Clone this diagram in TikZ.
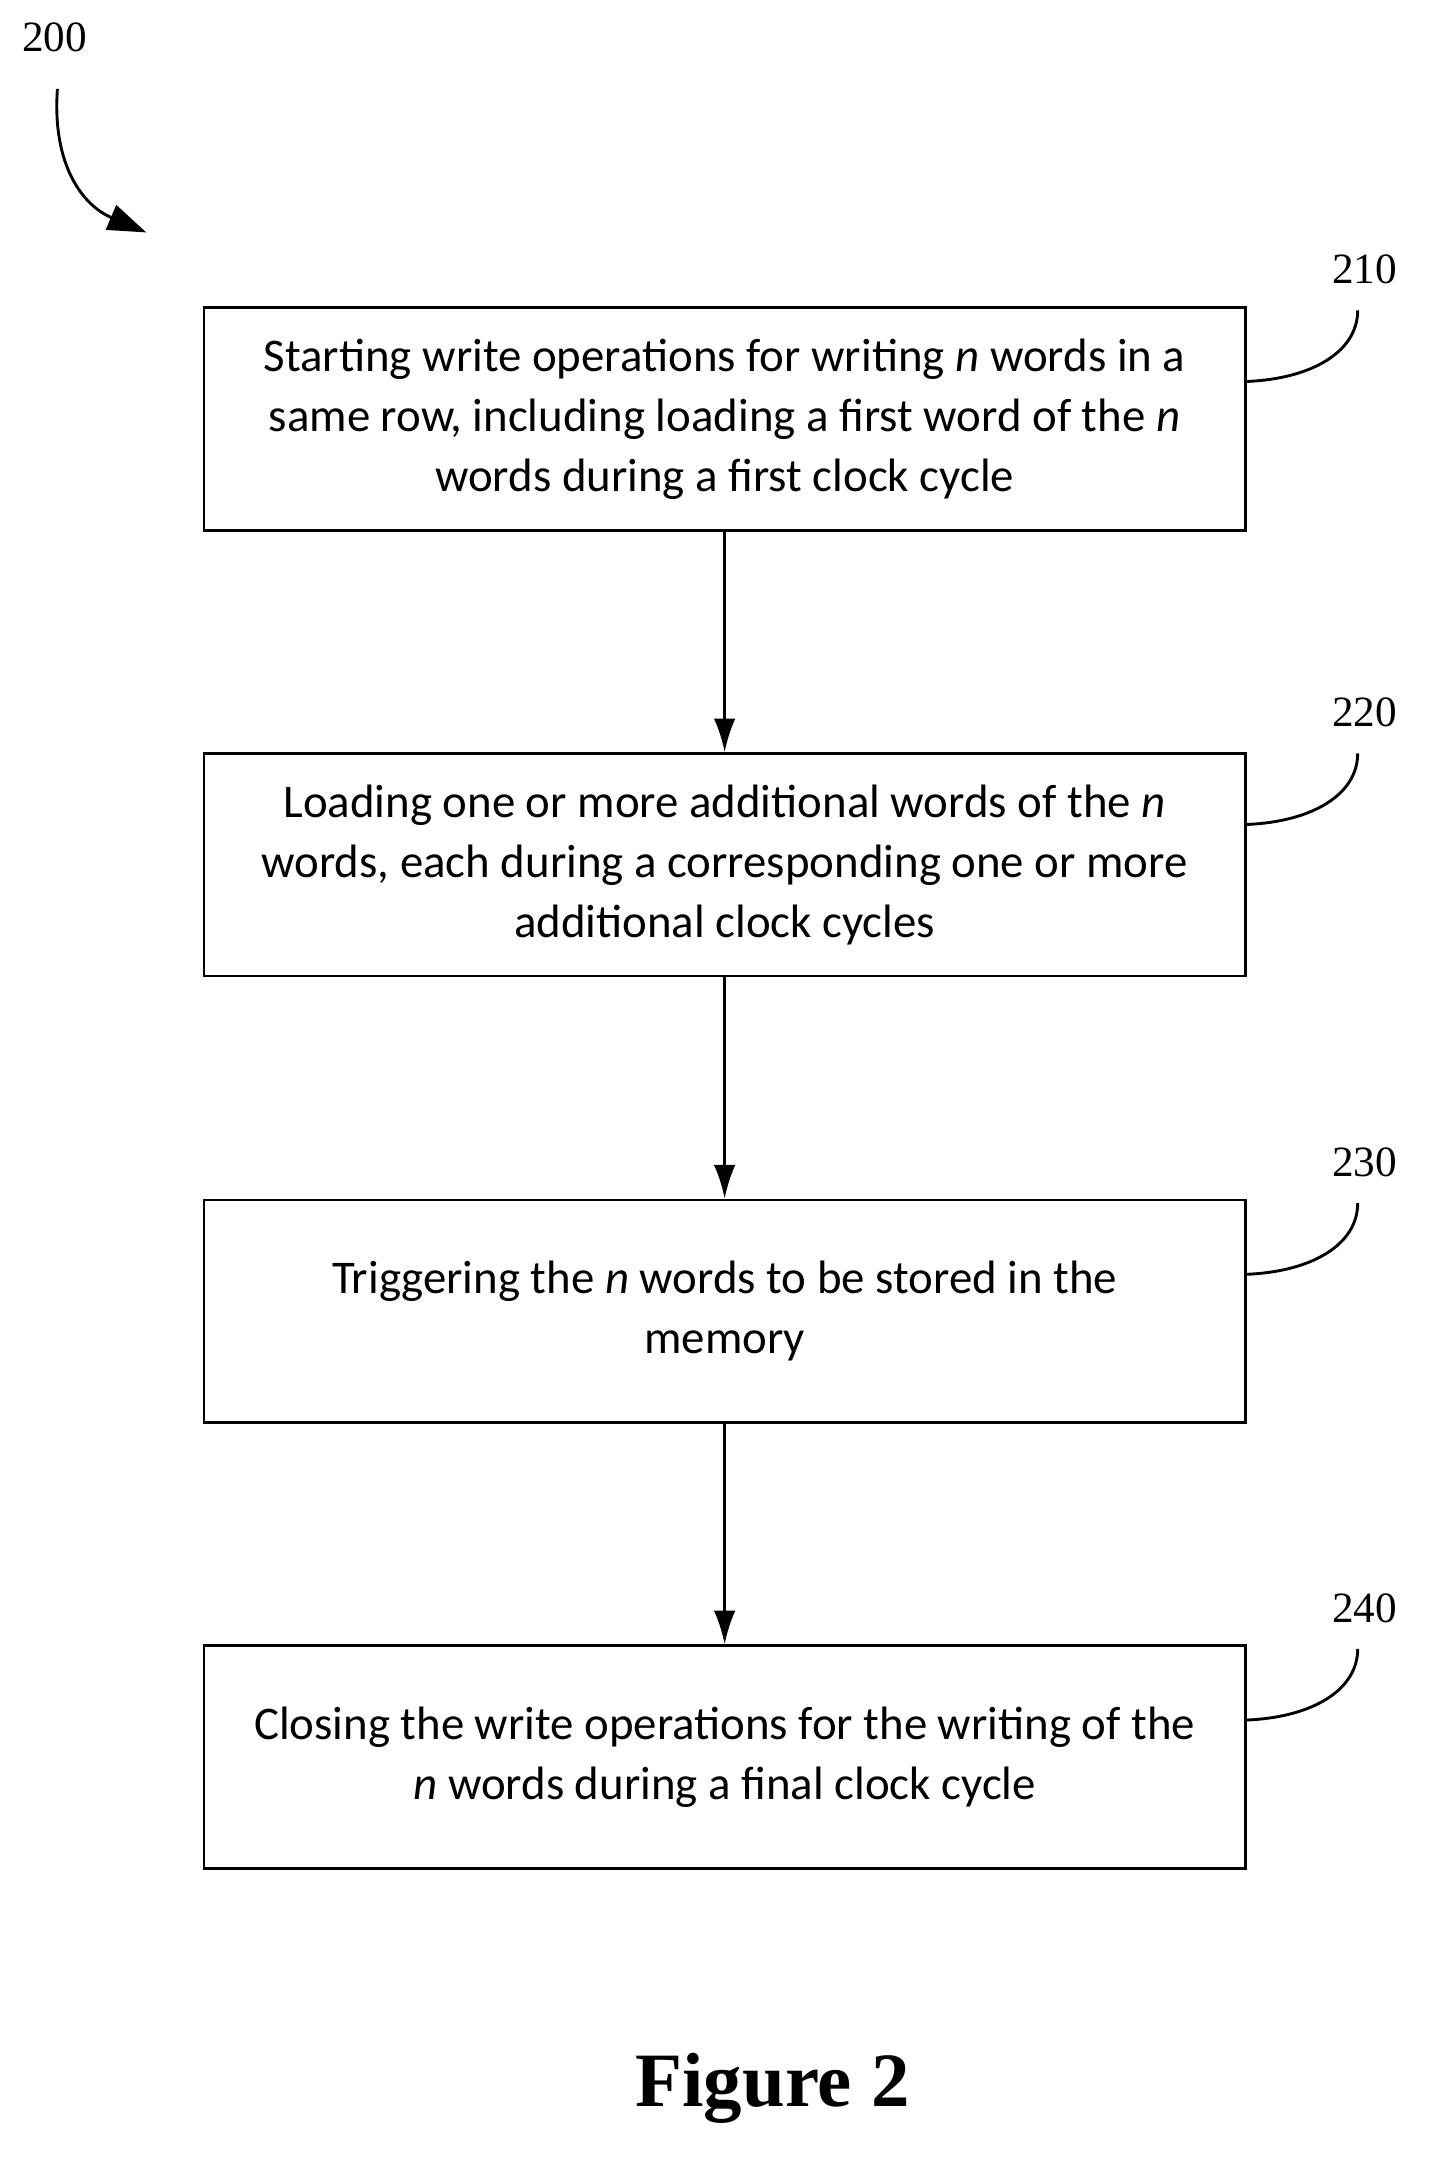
\documentclass[tikz,border=0pt]{standalone}
\usepackage{fontspec}
\setmainfont{Carlito}
\newfontfamily\tnr{Liberation Serif}
\usetikzlibrary{arrows.meta}
\begin{document}
\begin{tikzpicture}[x=0.02cm,y=-0.02cm,
  box/.style={draw,line width=1pt,minimum width=762*0.02cm,minimum height=163*0.02cm,align=center,font=\fontsize{19.5}{25}\selectfont,inner sep=0pt},
  lbl/.style={font=\tnr\fontsize{18}{20}\selectfont},
  arr/.style={-{Latex[length=14pt,width=9pt]},line width=1.2pt},
  lead/.style={line width=1.2pt}]
\useasboundingbox (0,0) rectangle (1049,1582);
\node[box] (b210) at (530,306.5) {Starting write operations for writing \textit{n} words in a\\same row, including loading a first word of the \textit{n}\\words during a first clock cycle};
\node[box] (b220) at (530,632.5) {Loading one or more additional words of the \textit{n}\\words, each during a corresponding one or more\\additional clock cycles};
\node[box] (b230) at (530,959) {Triggering the \textit{n} words to be stored in the\\memory};
\node[box] (b240) at (530,1285) {Closing the write operations for the writing of the\\\textit{n} words during a final clock cycle};
\draw[arr] (b210) -- (b220);
\draw[arr] (b220) -- (b230);
\draw[arr] (b230) -- (b240);
\foreach \n/\b/\y in {210/b210/197,220/b220/521,230/b230/850,240/b240/1176}{
  \node[lbl] (l\n) at (998,\y) {\n};
  \coordinate (c\n) at (993,\y+30);
  \draw[lead] (\b.east|-0,\y+82) .. controls (960,\y+80) and (993,\y+60) .. (c\n);
}
\node[lbl] (l200) at (40,27) {200};
\coordinate (e200) at (107,170);
\draw[line width=1.2pt,-{Triangle[length=16pt,width=11pt]}] (42,65) .. controls (38,120) and (60,150) .. (e200);
\node[font=\tnr\bfseries\fontsize{32}{36}\selectfont] (fig) at (565,1527) {Figure 2};
\end{tikzpicture}
\end{document}
